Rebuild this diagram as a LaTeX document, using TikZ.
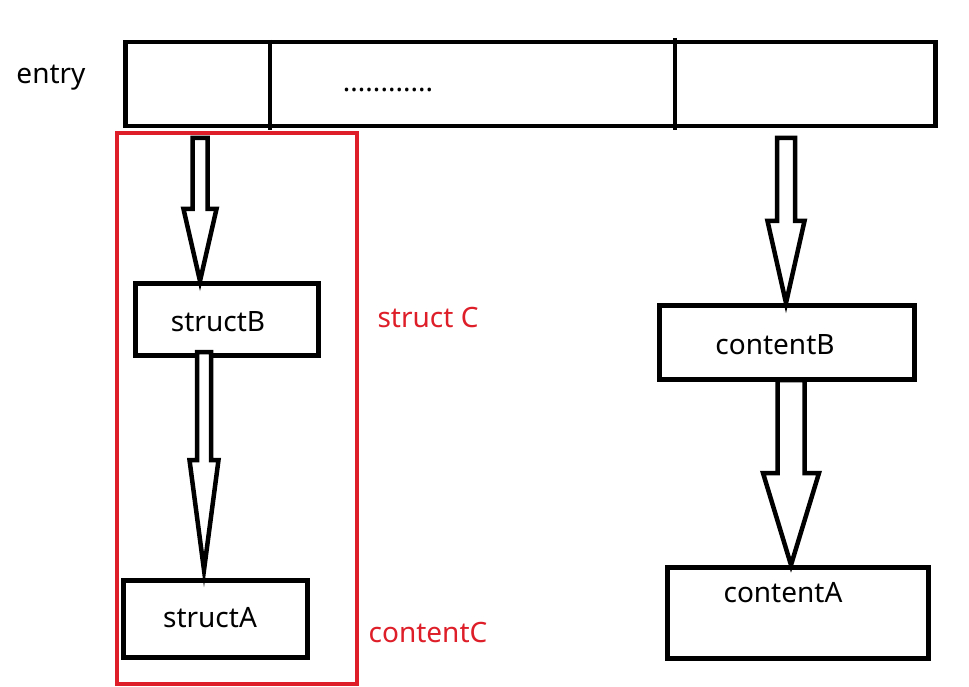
\documentclass[tikz,border=0pt]{standalone}
\usepackage{fontspec}
\setmainfont{Noto Sans}
\usetikzlibrary{calc}
\definecolor{myred}{RGB}{222,30,40}
\tikzset{
  box/.style={draw=black,line width=4.5pt,fill=white,rectangle,inner sep=0pt,anchor=north west},
  blk/.style={draw=black,line width=4.5pt,fill=white,line join=miter},
  lbl/.style={font=\fontsize{28}{32}\selectfont,inner sep=0pt},
  redlbl/.style={lbl,text=myred},
}
\newcommand\blkarrow[5]{%
  \draw[blk] let \p1=(#1), \p2=(#2) in
    (\x1-#3,\y1) -- (\x1+#3,\y1) -- (\x1+#3,\y2+#5) -- (\x1+#4,\y2+#5) -- (\x1,\y2)
    -- (\x1-#4,\y2+#5) -- (\x1-#3,\y2+#5) -- cycle;}
\begin{document}
\begin{tikzpicture}[x=1pt,y=-1pt]
\useasboundingbox (0,0) rectangle (969,687);
\fill[white] (0,0) rectangle (969,687);
% top bar
\node[box,minimum width=810pt,minimum height=84pt] (bar) at (123,40) {};
\draw[line width=4.5pt] (270,40) coordinate (d1t) -- (270,130) coordinate (d1b);
\draw[line width=4.5pt] (675,38) coordinate (d2t) -- (675,130) coordinate (d2b);
\node[lbl] (entry) at (51,78) {entry};
\node[lbl] (dots) at (388,90) {............};
% red group
\draw[myred,line width=4pt] (117,133) coordinate (rtl) rectangle (357,684) coordinate (rbr);
% boxes
\node[box,minimum width=183pt,minimum height=72pt] (sb) at (133,281) {};
\node[lbl] (sbt) at (218,322) {structB};
\node[box,minimum width=184pt,minimum height=77pt] (sa) at (121,578) {};
\node[lbl] (sat) at (210,618) {structA};
\node[box,minimum width=255pt,minimum height=74pt] (cb) at (657,303) {};
\node[lbl] (cbt) at (775,345) {contentB};
\node[box,minimum width=261pt,minimum height=91pt] (ca) at (665,565) {};
\node[lbl] (cat) at (783,593) {contentA};
\node[redlbl] (sc) at (428,318) {struct C};
\node[redlbl] (cc) at (428,632) {contentC};
% arrows
\coordinate (a1s) at (200,138);
\blkarrow{a1s}{sb.north}{7.5pt}{16.5pt}{72pt}
\coordinate (a2s) at (204,352);
\coordinate (a2e) at (204,570);
\blkarrow{a2s}{a2e}{7pt}{14.5pt}{110pt}
\coordinate (a3s) at (786,138);
\blkarrow{a3s}{cb.north}{9pt}{18.5pt}{82pt}
\coordinate (a4s) at (791,380);
\blkarrow{a4s}{ca.north}{13.5pt}{28pt}{92pt}
\end{tikzpicture}
\end{document}
